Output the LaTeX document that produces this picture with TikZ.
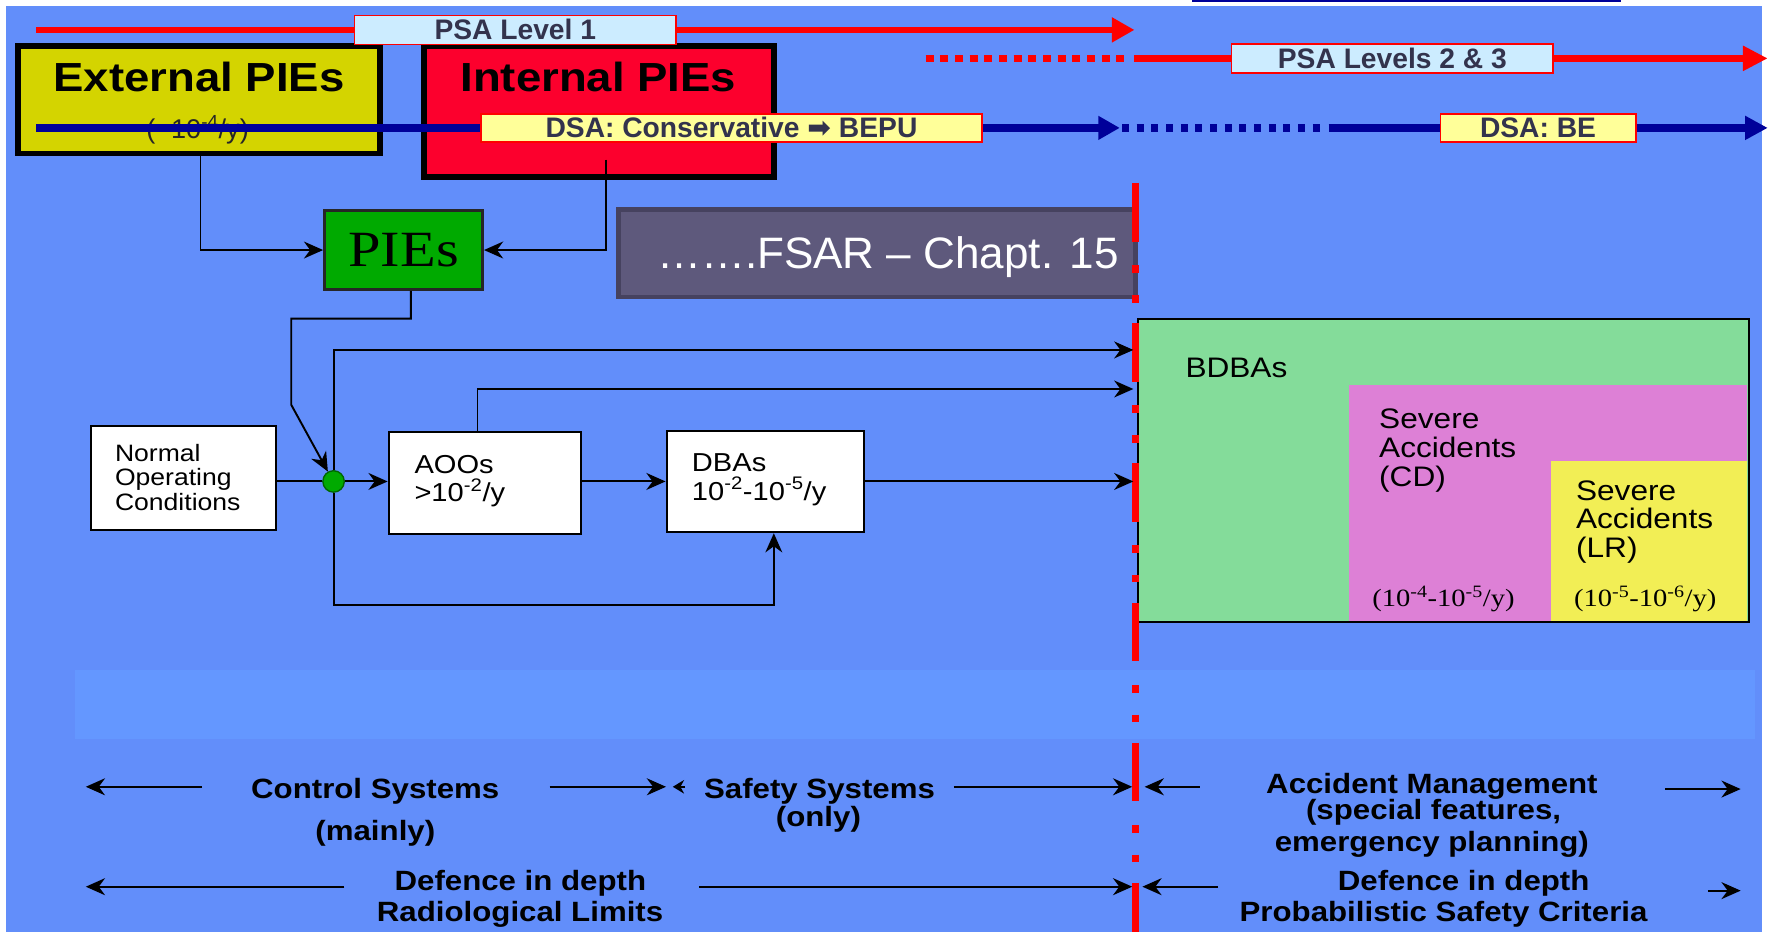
\documentclass[tikz,border=0pt]{standalone}
\usepackage{fontspec}
\setmainfont{Liberation Sans}
\newfontfamily\wide{Liberation Sans}[FakeStretch=1.12]
\newfontfamily\serw{Liberation Serif}[FakeStretch=1.15]
\newfontfamily\djv{DejaVu Sans}
\usetikzlibrary{arrows.meta,calc}
\newcommand\fsz[1]{\fontsize{#1}{#1}\selectfont}
\definecolor{bg}{RGB}{98,142,250}
\definecolor{band}{RGB}{100,151,255}
\definecolor{navy}{RGB}{0,0,153}
\definecolor{lblcyan}{RGB}{204,236,255}
\definecolor{lblyel}{RGB}{255,255,153}
\definecolor{lbltext}{RGB}{51,51,77}
\definecolor{extfill}{RGB}{212,212,0}
\definecolor{intfill}{RGB}{252,0,45}
\definecolor{piegreen}{RGB}{0,170,0}
\definecolor{fsarfill}{RGB}{94,89,124}
\definecolor{fsarline}{RGB}{70,66,95}
\definecolor{bdba}{RGB}{132,220,154}
\definecolor{sacd}{RGB}{221,128,214}
\definecolor{salr}{RGB}{242,238,85}
\begin{document}
\begin{tikzpicture}[x=1pt,y=-1pt,
  conn/.style={draw=black, line width=1.7pt},
  arr/.style={-{Stealth[length=17pt,width=15pt]}},
  barr/.style={draw=black, line width=2pt, -{Stealth[length=17pt,width=15pt]}},
  lbl/.style={draw=red, line width=1.5pt, inner sep=0pt, font=\bfseries\fsz{25}, text=lbltext},
  rline/.style={draw=red, line width=6pt},
  bline/.style={draw=navy, line width=6.5pt},
  bigtip/.style={-{Triangle[length=20pt,width=21pt]}},
  bigbox/.style={draw=black, line width=5pt, inner sep=0pt},
  fbox/.style={draw=black, fill=white, line width=1.8pt, inner sep=0pt},
  txt/.style={inner sep=0pt, anchor=base},
  ltxt/.style={inner sep=0pt, anchor=base west},
  btxt/.style={txt, font=\wide\bfseries\fsz{24.7}},
  noct/.style={ltxt, font=\wide\fsz{21}},
  boxt/.style={ltxt, font=\wide\fsz{23}},
  sat/.style={ltxt, font=\wide\fsz{25}},
  frq/.style={txt, font=\serw\fsz{22}}
]
\useasboundingbox (0,0) rectangle (1568,826);
% background
\fill[white] (0,0) rectangle (1568,826);
\fill[bg] (5.3,5.3) rectangle (1560.5,826);
\fill[band] (66,593.6) rectangle (1555,655);

% coordinates
\coordinate (nv1) at (1056,1.2); \coordinate (nv2) at (1436,1.2);
\coordinate (p1a) at (32,26.5); \coordinate (p1b) at (1005,26.5);
\coordinate (p2a) at (820,51.7); \coordinate (p2b) at (998,51.7);
\coordinate (p2c) at (1005,51.7); \coordinate (p2e) at (1566,51.7);
\coordinate (d1a) at (32,113.3); \coordinate (d1b) at (992,113.3);
\coordinate (d2a) at (994,113.3); \coordinate (d2b) at (1170,113.3);
\coordinate (d2c) at (1177,113.3); \coordinate (d2e) at (1566,113.3);
\coordinate (rv1) at (1006,162); \coordinate (rv2) at (1006,826);
\coordinate (rl) at (1004,0);
\coordinate (t1) at (1004,310); \coordinate (t2) at (1004,344.6);
\coordinate (a1s) at (179,697); \coordinate (a1e) at (76,697);
\coordinate (a2s) at (487,697); \coordinate (a2e) at (590,697);
\coordinate (a3s) at (607,697); \coordinate (a3e) at (596,697);
\coordinate (a4s) at (845,697); \coordinate (a4e) at (1003,697);
\coordinate (a5s) at (1063,697); \coordinate (a5e) at (1014,697);
\coordinate (a6s) at (1475,699); \coordinate (a6e) at (1542,699);
\coordinate (b1s) at (305,785.5); \coordinate (b1e) at (76,785.5);
\coordinate (b2s) at (619,785.5); \coordinate (b2e) at (1003,785.5);
\coordinate (b3s) at (1079,785.5); \coordinate (b3e) at (1012,785.5);
\coordinate (b4s) at (1513,789); \coordinate (b4e) at (1542,789);

\draw[navy, line width=2pt] (nv1) -- (nv2);

% external / internal PIEs
\node[bigbox, fill=extfill, minimum width=320.5, minimum height=95] (ext) at (176.25,88.5) {};
\node[txt, font=\wide\bfseries\fsz{36}] (extt) at (176.3,81.2) {External PIEs};
\node[txt, font=\fsz{24}, text=black!85] (extf) at (175,123) {(\textasciitilde10\textsuperscript{-4}/y)};
\node[bigbox, fill=intfill, minimum width=310, minimum height=116] (int) at (530.5,99) {};
\node[txt, font=\wide\bfseries\fsz{36}] (intt) at (530,81.2) {Internal PIEs};

% PIEs and FSAR
\node[draw=black!85, line width=2.5pt, fill=piegreen, inner sep=0pt, minimum width=140, minimum height=69.7, font=\serw\fsz{45}] (pies) at (357.5,221.5) {PIEs};
\node[draw=fsarline, fill=fsarfill, line width=4pt, inner sep=0pt, minimum width=458, minimum height=77.5] (fsar) at (777,224.2) {};
\node[txt, text=white, font=\fsz{39}] (fsart) at (786.5,237.7) {…….FSAR – Chapt. 15};

\draw[conn, arr] ([xshift=1.4pt]ext.south) |- (pies.west);
\draw[conn, arr] ($(int.south)+(6.5,-18)$) |- (pies.east);

% flow boxes
\node[fbox, minimum width=164, minimum height=92] (noc) at (162.5,423.5) {};
\node[noct] (noc1) at (101.7,409) {Normal};
\node[noct] (noc2) at (101.7,430.5) {Operating};
\node[noct] (noc3) at (101.7,452) {Conditions};
\node[circle, fill=piegreen, draw=black!60!green, line width=1.2pt, minimum size=19, inner sep=0pt] (jn) at (295.5,426.5) {};
\node[fbox, minimum width=170.4, minimum height=90.4] (aoo) at (429.5,428.2) {};
\node[boxt] (aoo1) at (367,419.3) {AOOs};
\node[boxt] (aoo2) at (367,444) {>10\textsuperscript{-2}/y};
\node[fbox, minimum width=175, minimum height=90] (dba) at (678,426.5) {};
\node[boxt] (dba1) at (612.8,418) {DBAs};
\node[boxt] (dba2) at (612.8,443) {10\textsuperscript{-2}-10\textsuperscript{-5}/y};

% BDBA area
\node[fill=bdba, inner sep=0pt, minimum width=541, minimum height=268] (bdbab) at (1278.5,417) {};
\node[fill=sacd, inner sep=0pt, minimum width=352.2, minimum height=209.5, anchor=north west] (sacdb) at (1194.8,340.5) {};
\node[fill=salr, inner sep=0pt, minimum width=173.3, minimum height=141.6, anchor=north west] (salrb) at (1373.7,408.4) {};
\draw[black, line width=2pt] (bdbab.north west) rectangle (bdbab.south east);
\node[sat] (bdbat) at (1050,334) {BDBAs};
\node[sat] (cd1) at (1221.6,379.6) {Severe};
\node[sat] (cd2) at (1221.6,405) {Accidents};
\node[sat] (cd3) at (1221.6,430.6) {(CD)};
\node[sat] (lr1) at (1396,443) {Severe};
\node[sat] (lr2) at (1396,468.6) {Accidents};
\node[sat] (lr3) at (1396,494) {(LR)};
\node[frq] (cdf) at (1278.7,537) {(10\textsuperscript{-4}-10\textsuperscript{-5}/y)};
\node[frq] (lrf) at (1457.5,537) {(10\textsuperscript{-5}-10\textsuperscript{-6}/y)};

% red dash-dot boundary
\draw[red, line width=6.5pt, dash pattern=on 52pt off 21pt on 7pt off 19pt on 7pt off 18pt] (rv1) -- (rv2);

% flow connectors
\draw[conn] (jn -| noc.east) -- (jn.west);
\draw[conn, arr] (jn.east) -- (jn -| aoo.west);
\draw[conn, arr] (jn -| aoo.east) -- (jn -| dba.west);
\draw[conn, arr] (jn -| dba.east) -- (jn -| rl);
\draw[conn, arr] (jn.north) |- (t1);
\draw[conn, arr] (jn.south) -- ++(0,99) -| ([xshift=7.5pt]dba.south);
\draw[conn, arr] ([xshift=-6.5pt]aoo.north) |- (t2);
\draw[conn, arr] ([xshift=6.5pt]pies.south) -- ++(0,24.7) -- ++(-106,0) -- ++(0,76.3) -- (jn.120);

% top labels and lines
\node[lbl, fill=lblcyan, minimum width=285, minimum height=25.7] (psa1) at (456.5,26.5) {PSA Level 1};
\node[lbl, fill=lblcyan, minimum width=285, minimum height=25.6] (psa2) at (1233.5,51.7) {PSA Levels 2 \& 3};
\node[lbl, fill=lblyel, minimum width=444, minimum height=25] (dsa1) at (648,113.3) {DSA: Conservative {\djv ➡} BEPU};
\node[lbl, fill=lblyel, minimum width=173, minimum height=25] (dsa2) at (1362.5,113.3) {DSA: BE};

\draw[rline] (p1a) -- (psa1.west);
\draw[rline, bigtip] (psa1.east) -- (p1b);
\draw[rline, dash pattern=on 7pt off 6pt] (p2a) -- (p2b);
\draw[rline] (p2c) -- (psa2.west);
\draw[rline, -{Triangle[length=22pt,width=21pt]}] (psa2.east) -- (p2e);
\draw[bline] (d1a) -- (dsa1.west);
\draw[bline, -{Triangle[length=19pt,width=20pt]}] (dsa1.east) -- (d1b);
\draw[bline, dash pattern=on 6pt off 7pt] (d2a) -- (d2b);
\draw[bline] (d2c) -- (dsa2.west);
\draw[bline, -{Triangle[length=20pt,width=20pt]}] (dsa2.east) -- (d2e);

% bottom labels
\node[btxt] (cs) at (332.4,707) {Control Systems};
\node[btxt] (csm) at (332.5,745) {(mainly)};
\node[btxt] (ss) at (726,707) {Safety Systems};
\node[btxt] (sso) at (725,732) {(only)};
\node[btxt] (am1) at (1268.5,703) {Accident Management};
\node[btxt] (am2) at (1270,726) {(special features,};
\node[btxt] (am3) at (1268.4,754) {emergency planning)};
\node[btxt] (dl1) at (461,788.5) {Defence in depth};
\node[btxt] (dl2) at (460.7,816.5) {Radiological Limits};
\node[btxt] (dr1) at (1296.6,788.5) {Defence in depth};
\node[btxt] (dr2) at (1278.8,816.5) {Probabilistic Safety Criteria};

\draw[barr] (a1s) -- (a1e);
\draw[barr] (a2s) -- (a2e);
\draw[barr, -{Stealth[length=10pt,width=12pt]}] (a3s) -- (a3e);
\draw[barr] (a4s) -- (a4e);
\draw[barr] (a5s) -- (a5e);
\draw[barr] (a6s) -- (a6e);
\draw[barr] (b1s) -- (b1e);
\draw[barr] (b2s) -- (b2e);
\draw[barr] (b3s) -- (b3e);
\draw[barr] (b4s) -- (b4e);
\end{tikzpicture}
\end{document}
